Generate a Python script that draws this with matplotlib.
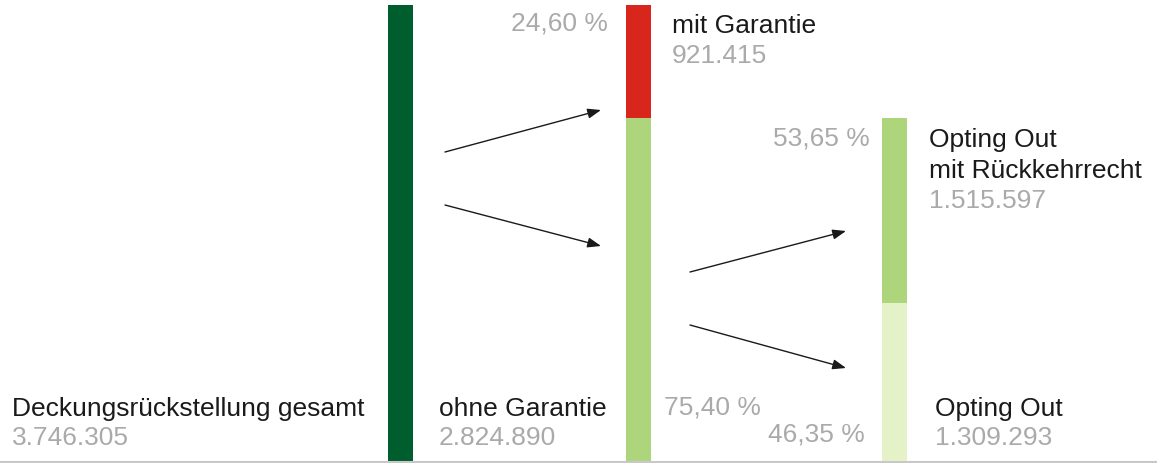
import matplotlib.pyplot as plt

plt.rcParams['font.family'] = ['Liberation Sans', 'DejaVu Sans']

# Deckungsrückstellung und Aufteilung
gesamt = 3746305
garantie_werte = [921415, 2824890]          # mit Garantie, ohne Garantie
opting_werte = [1309293, 1515597]           # Opting Out, Opting Out mit Rückkehrrecht
garantie_anteile = ['24,60 %', '75,40 %']
opting_anteile = ['46,35 %', '53,65 %']

DUNKELGRUEN = '#005E2E'
ROT = '#D9261C'
HELLGRUEN = '#ADD67C'
BLASSGRUEN = '#E5F2C8'
GRAU = '#AAAAAA'

W, H = 1157, 464
fig = plt.figure(figsize=(W / 100, H / 100), dpi=100)
ax = fig.add_axes([0, 0, 1, 1])
ax.set_xlim(0, W)
ax.set_ylim(0, gesamt * 464 / 458)
ax.axis('off')

bw = 25
# Säule 1: gesamt
ax.bar(400, gesamt, width=bw, color=DUNKELGRUEN)
# Säule 2: ohne / mit Garantie
ax.bar(638.5, garantie_werte[1], width=bw, color=HELLGRUEN)
ax.bar(638.5, garantie_werte[0], bottom=garantie_werte[1], width=bw, color=ROT)
# Säule 3: Opting Out
ax.bar(894.5, opting_werte[0], width=bw, color=BLASSGRUEN)
ax.bar(894.5, opting_werte[1], bottom=opting_werte[0], width=bw, color=HELLGRUEN)

# Grundlinie
fig.add_artist(plt.Line2D([0, 1], [1.2 / H, 1.2 / H], color='#C8C8C8', lw=1.5, zorder=5))


def px(x, y):
    return x / W, 1 - y / H


def txt(x, y, s, color='#1A1A1A', ha='left'):
    fig.text(*px(x, y), s, color=color, ha=ha, va='center', fontsize=19)


def pfeil(x0, y0, x1, y1):
    fig.add_artist(plt.matplotlib.patches.FancyArrowPatch(
        px(x0, y0), px(x1, y1), transform=fig.transFigure,
        arrowstyle='-|>,head_length=0.8,head_width=0.3', mutation_scale=10,
        shrinkA=0, shrinkB=0, lw=1, color='#1A1A1A'))


pfeil(445, 153, 601, 111)
pfeil(445, 206, 601, 247)
pfeil(690, 273, 846, 232)
pfeil(690, 326, 846, 369)

fmt = lambda v: f'{v:,}'.replace(',', '.')

txt(608, 24, garantie_anteile[0], GRAU, ha='right')
txt(672, 26, 'mit Garantie')
txt(672, 56, fmt(garantie_werte[0]), GRAU)

txt(870, 139, opting_anteile[1], GRAU, ha='right')
txt(929, 140, 'Opting Out')
txt(929, 171, 'mit Rückkehrrecht')
txt(929, 201, fmt(opting_werte[1]), GRAU)

txt(12, 409, 'Deckungsrückstellung gesamt')
txt(12, 438, fmt(gesamt), GRAU)

txt(439, 409, 'ohne Garantie')
txt(439, 438, fmt(garantie_werte[1]), GRAU)

txt(664, 408, garantie_anteile[1], GRAU)
txt(865, 435, opting_anteile[0], GRAU, ha='right')

txt(935, 409, 'Opting Out')
txt(935, 438, fmt(opting_werte[0]), GRAU)

fig.savefig('out.png', dpi=100)
